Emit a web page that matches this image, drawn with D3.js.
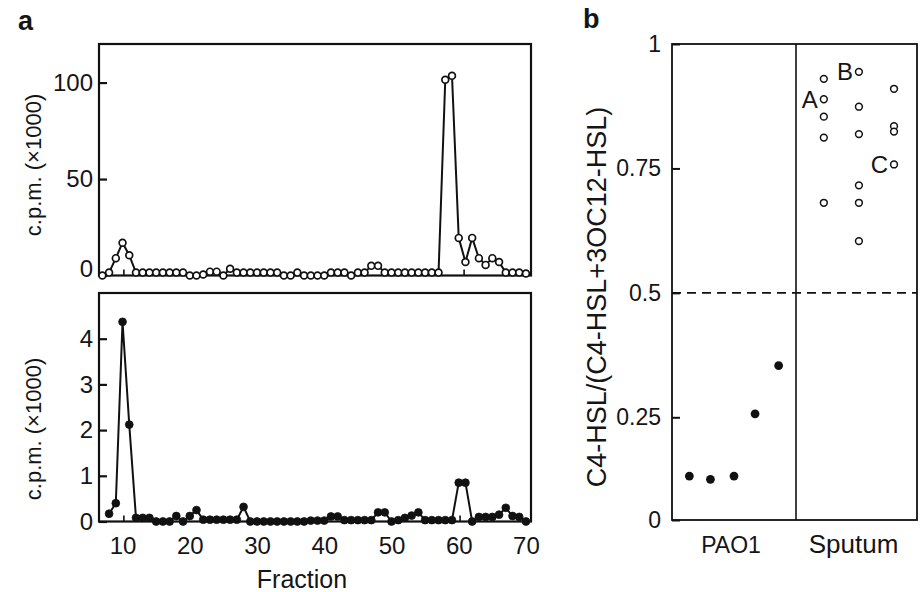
<!DOCTYPE html>
<html><head><meta charset="utf-8">
<script src="https://cdn.jsdelivr.net/npm/d3@7/dist/d3.min.js"></script>
<style>body{margin:0;background:#fff}text{font-family:"Liberation Sans",Arial,sans-serif;fill:#151515}</style>
</head><body><svg id="c" width="922" height="592"></svg>
<script>
// ---------- DATA ----------
const fracTop = [7,8,9,10,11,12,13,14,15,16,17,18,19,20,21,22,23,24,25,26,27,28,29,30,31,32,33,34,35,36,37,38,39,40,41,42,43,44,45,46,47,48,49,50,51,52,53,54,55,56,57,58,59,60,61,62,63,64,65,66,67,68,69,70];
const cpmTop = [0,1.5,9,17,10.5,1.5,1.5,1.5,1.5,1.5,1.5,1.5,1.5,0,0,0.5,2,2,0,3.5,1.5,1.5,1.5,1.5,1.5,1.5,1.5,0,0,1.5,0,0,0,0,1.5,1.5,1.5,0,1.5,1.5,5,5,1.5,1.5,1.5,1.5,1.5,1.5,1.5,1.5,1.5,101.5,103.5,19.5,7,19.5,9,5.5,9,7,1.5,1.5,1.5,1];
const fracBottom = [8,9,10,11,12,13,14,15,16,17,18,19,20,21,22,23,24,25,26,27,28,29,30,31,32,33,34,35,36,37,38,39,40,41,42,43,44,45,46,47,48,49,50,51,52,53,54,55,56,57,58,59,60,61,62,63,64,65,66,67,68,69,70];
const cpmBottom = [0.17,0.4,4.37,2.12,0.08,0.08,0.08,0,0,0,0.12,0,0.12,0.25,0.04,0.04,0.04,0.04,0.04,0.04,0.32,0,0,0,0,0,0,0,0,0,0.02,0.02,0.02,0.11,0.11,0.03,0.03,0.03,0.03,0.03,0.2,0.2,0,0.03,0.08,0.13,0.2,0.03,0.03,0.03,0.03,0.03,0.85,0.85,0,0.1,0.1,0.1,0.15,0.3,0.12,0.1,0];
const markerTop = [10.2, 60.8];
const markerBottom = [10.2, 60.2];
const fractionTicks = [10,20,30,40,50,60,70];
const topTicks = [0,50,100];
const bottomTicks = [0,1,2,3,4];

const groups = ["PAO1","Sputum"];
const pao1X = [0.14,0.31,0.5,0.67,0.86];
const pao1Ratio = [0.107,0.099,0.107,0.257,0.354];
const sputumX = [1.23,1.23,1.23,1.23,1.23,1.52,1.52,1.52,1.52,1.52,1.52,1.81,1.81,1.81,1.81];
const sputumRatio = [0.930,0.889,0.854,0.812,0.681,0.944,0.874,0.819,0.716,0.681,0.604,0.910,0.835,0.824,0.758];
const pointLabels = ["A","B","C"];
const pointLabelIdx = [1,5,14];
const ratioTicks = [0,0.25,0.5,0.75,1];
const ratioTickText = ["0","0.25","0.5","0.75","1"];
const threshold = 0.5;

// ---------- DRAW ----------
const FONT = '"Liberation Sans",Arial,sans-serif';
const svg = d3.select("#c");
const L = 99, R = 531;
const xA = d3.scaleLinear().domain([6.5,70.75]).range([L,R]);
const yTop = d3.scaleLinear().domain([0,120]).range([275.5,44]);
const yBot = d3.scaleLinear().domain([0,5]).range([521.5,293]);

function panel(y, fr, vals, markers, ticks, filled, zeroShift){
  const g = svg.append("g");
  const [y0,y1] = y.range();
  g.append("rect").attr("x",L).attr("y",y1).attr("width",R-L).attr("height",y0-y1)
    .attr("fill","none").attr("stroke","#111").attr("stroke-width",2.2);
  const ax = g.append("g").attr("transform",`translate(${L},0)`)
    .call(d3.axisLeft(y).tickValues(ticks).tickFormat(d3.format("d")).tickSizeInner(-8).tickSizeOuter(0).tickPadding(6));
  ax.select(".domain").remove();
  ax.selectAll(".tick line").attr("stroke","#111").attr("stroke-width",2.2);
  ax.selectAll(".tick text").attr("font-size",24).attr("fill","#151515").style("font-family",FONT);
  if(zeroShift) ax.selectAll(".tick text").filter(d=>d===0).attr("dy","0.05em");
  g.selectAll(".mk").data(markers).enter().append("line")
    .attr("x1",d=>xA(d)).attr("x2",d=>xA(d)).attr("y1",y0).attr("y2",y0-6)
    .attr("stroke","#111").attr("stroke-width",1.6);
  const pts = fr.map((f,i)=>[f,vals[i]]);
  g.append("path").attr("d",d3.line().x(d=>xA(d[0])).y(d=>y(d[1]))(pts))
    .attr("fill","none").attr("stroke","#111").attr("stroke-width",2).attr("stroke-linejoin","round");
  g.selectAll(".pt").data(pts).enter().append("circle")
    .attr("cx",d=>xA(d[0])).attr("cy",d=>y(d[1])).attr("r",filled?3.9:3.4)
    .attr("fill",filled?"#111":"#fff").attr("stroke","#111").attr("stroke-width",filled?0.8:1.7);
  return g;
}
panel(yTop, fracTop, cpmTop, markerTop, topTicks, false, true);
panel(yBot, fracBottom, cpmBottom, markerBottom, bottomTicks, true, false);

const xa = svg.append("g").attr("transform",`translate(0,${yBot.range()[0]})`)
  .call(d3.axisBottom(xA).tickValues(fractionTicks).tickSize(0).tickPadding(15));
xa.select(".domain").remove();
xa.selectAll(".tick text").attr("font-size",24).attr("fill","#151515").style("font-family",FONT);

svg.append("text").attr("x",302).attr("y",588).attr("text-anchor","middle").attr("font-size",25).text("Fraction");
svg.append("text").attr("transform","translate(33,165) rotate(-90)").attr("text-anchor","middle")
  .attr("dominant-baseline","central").attr("font-size",22).text("c.p.m. (×1000)");
svg.append("text").attr("transform","translate(33,429) rotate(-90)").attr("text-anchor","middle")
  .attr("dominant-baseline","central").attr("font-size",22).text("c.p.m. (×1000)");
svg.append("text").attr("x",18).attr("y",30).attr("font-size",27).attr("font-weight","bold").text("a");
svg.append("text").attr("x",583).attr("y",28).attr("font-size",27).attr("font-weight","bold").text("b");

// panel b
const BL = 672, BR = 917;
const xB = d3.scaleLinear().domain([0,1,2]).range([BL,796,BR]);
const yB = d3.scaleLinear().domain([0,0.25,1]).range([520,417.3,44]);
const gb = svg.append("g");
gb.append("rect").attr("x",BL).attr("y",yB(1)).attr("width",BR-BL).attr("height",yB(0)-yB(1))
  .attr("fill","none").attr("stroke","#111").attr("stroke-width",1.8);
gb.append("line").attr("x1",xB(1)).attr("x2",xB(1)).attr("y1",yB(1)).attr("y2",yB(0))
  .attr("stroke","#111").attr("stroke-width",1.6);
gb.append("line").attr("x1",BL).attr("x2",BR).attr("y1",yB(threshold)).attr("y2",yB(threshold))
  .attr("stroke","#111").attr("stroke-width",1.8).attr("stroke-dasharray","9,6");
const ayb = gb.append("g").attr("transform",`translate(${BL},0)`)
  .call(d3.axisLeft(yB).tickValues(ratioTicks).tickFormat((d,i)=>ratioTickText[i]).tickSizeInner(-8).tickSizeOuter(0).tickPadding(11));
ayb.select(".domain").remove();
ayb.selectAll(".tick line").attr("stroke","#111").attr("stroke-width",2);
ayb.selectAll(".tick text").attr("font-size",23).attr("fill","#151515").style("font-family",FONT);
gb.selectAll(".cat").data(groups).enter().append("text")
  .attr("x",(d,i)=>xB(i+0.5)-3).attr("y",553).attr("text-anchor","middle").attr("font-size",(d,i)=>i?26:23).text(d=>d);
svg.append("text").attr("transform","translate(597,297) rotate(-90)").attr("text-anchor","middle")
  .attr("dominant-baseline","central").attr("font-size",27).text("C4-HSL/(C4-HSL+3OC12-HSL)");
gb.selectAll(".pa").data(pao1Ratio).enter().append("circle")
  .attr("cx",(d,i)=>xB(pao1X[i])).attr("cy",d=>yB(d)).attr("r",4.4).attr("fill","#111");
gb.selectAll(".sp").data(sputumRatio).enter().append("circle")
  .attr("cx",(d,i)=>xB(sputumX[i])).attr("cy",d=>yB(d)).attr("r",3.4)
  .attr("fill","#fff").attr("stroke","#111").attr("stroke-width",1.5);
gb.selectAll(".lb").data(pointLabels).enter().append("text")
  .attr("x",(d,i)=>xB(sputumX[pointLabelIdx[i]])-6).attr("y",(d,i)=>yB(sputumRatio[pointLabelIdx[i]]))
  .attr("dy","0.35em").attr("text-anchor","end").attr("font-size",24).text(d=>d);
</script></body></html>
